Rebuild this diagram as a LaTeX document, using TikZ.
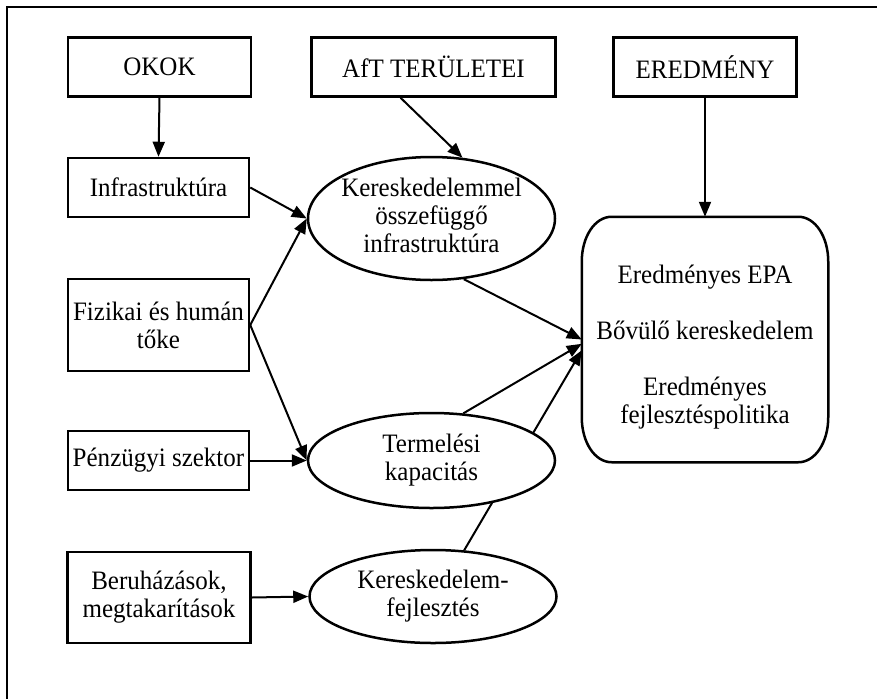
\documentclass[tikz,border=0pt]{standalone}
\usepackage{fontspec}
\setmainfont[FakeStretch=0.94]{Liberation Serif}
\usetikzlibrary{shapes.geometric,arrows.meta,backgrounds,calc}
\begin{document}
\begin{tikzpicture}[x=1pt,y=-1pt, line width=2.5pt,
  every node/.style={font=\fontsize{26.6}{28}\selectfont},
  box/.style={draw, rectangle, inner sep=0pt, align=center, fill=white},
  oval/.style={draw, ellipse, fill=white, inner sep=0pt, minimum width=247pt},
  arr/.style={-{Triangle[length=15pt,width=12pt]}, line width=2pt}]
\useasboundingbox (0,0) rectangle (877,699);
\draw[line width=2.8pt] (877,7) -- (7,7) -- (7,699);
% header boxes
\node[box, minimum width=183pt, minimum height=59pt] (okok) at (159.5,67) {OKOK};
\node[box, minimum width=244pt, minimum height=59pt] (aft) at (433.5,67) {AfT TERÜLETEI};
\node[box, minimum width=183pt, minimum height=59pt] (ered) at (705,67) {EREDMÉNY};
% left boxes
\node[box, minimum width=181pt, minimum height=59pt] (infra) at (158.5,187.5) {Infrastruktúra};
\node[box, minimum width=181pt, minimum height=92pt] (fiz) at (158.5,325) {Fizikai és humán\\tőke};
\node[box, minimum width=181pt, minimum height=59pt] (penz) at (158.5,460.5) {Pénzügyi szektor};
\node[box, minimum width=183pt, minimum height=91pt] (beru) at (159,597.5) {Beruházások,\\megtakarítások};
% ellipses
\node[oval, minimum height=123pt] (e1) at (431.5,218.5)
  {\makebox[0pt]{\begin{tabular}{@{}c@{}}Kereskedelemmel\\összefüggő\\infrastruktúra\end{tabular}}};
\node[oval, minimum height=95pt] (e2) at (431.5,460.5)
  {\makebox[0pt]{\begin{tabular}{@{}c@{}}Termelési\\kapacitás\end{tabular}}};
\node[oval, minimum height=93pt] (e3) at (433,596.5)
  {\makebox[0pt]{\begin{tabular}{@{}c@{}}Kereskedelem-\\fejlesztés\end{tabular}}};
% result box (outline with oval-like corners drawn around the node)
\node[rectangle, minimum width=244pt, minimum height=243pt, align=center, inner sep=0pt] (res) at (705,339.5)
  {\rule{0pt}{33pt}Eredményes EPA\\[28pt]Bővülő kereskedelem\\[28pt]Eredményes\\fejlesztéspolitika};
\draw ($(res.north west)+(30,0)$) -- ($(res.north east)+(-30,0)$)
  .. controls ($(res.north east)+(-13,0)$) and ($(res.north east)+(0,20)$) .. ($(res.north east)+(0,45)$)
  -- ($(res.south east)+(0,-45)$)
  .. controls ($(res.south east)+(0,-20)$) and ($(res.south east)+(-13,0)$) .. ($(res.south east)+(-30,0)$)
  -- ($(res.south west)+(30,0)$)
  .. controls ($(res.south west)+(13,0)$) and ($(res.south west)+(0,-20)$) .. ($(res.south west)+(0,-45)$)
  -- ($(res.north west)+(0,45)$)
  .. controls ($(res.north west)+(0,20)$) and ($(res.north west)+(13,0)$) .. cycle;
% connectors
\draw[arr] (okok.south) -- (infra.north);
\draw[arr] (aft.223.6) -- (e1.63);
\draw[arr] (ered.south) -- (res.north);
\draw[arr] (infra.east) -- (e1.west);
\draw[arr] (fiz.east) -- (e1.west);
\draw[arr] (fiz.east) -- (e2.west);
\draw[arr] (penz.east) -- (e2.west);
\draw[arr] (beru.east) -- (e3.west);
\draw[arr] (e1.-62) -- (res.west);
\draw[arr] (e2.56.5) -- (res.182);
\begin{scope}[on background layer]
\draw[arr] (e3.56.4) -- (res.185);
\end{scope}
\end{tikzpicture}
\end{document}
